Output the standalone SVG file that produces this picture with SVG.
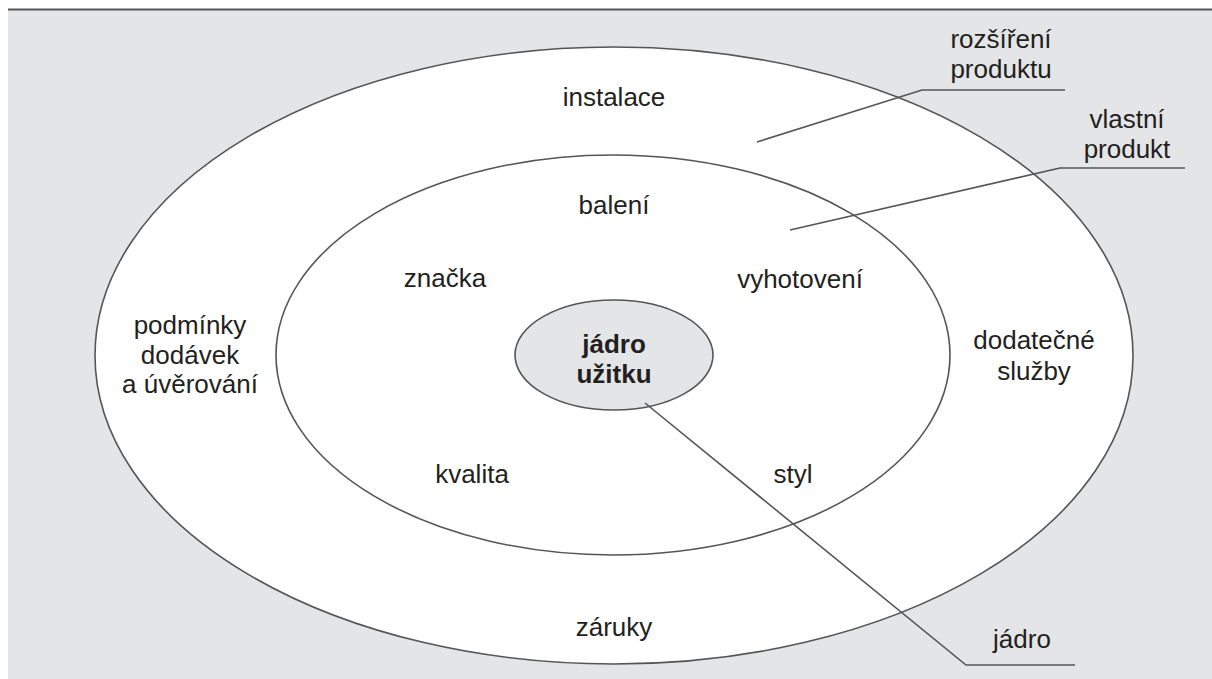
<svg xmlns="http://www.w3.org/2000/svg" width="1212" height="679" viewBox="0 0 1212 679">
<style>
.t{font-family:"Liberation Sans",Arial,sans-serif;font-size:26px;fill:#231f20;text-anchor:middle}
.b{font-weight:bold}
.e{stroke:#555;stroke-width:1.6}
.l{fill:none;stroke:#555;stroke-width:1.6}
</style>
<rect x="0" y="0" width="1212" height="679" fill="#ffffff"/>
<rect x="8" y="10" width="1204" height="669" fill="#e4e5e7"/>
<line x1="8" y1="9.5" x2="1212" y2="9.5" stroke="#555" stroke-width="2"/>
<g id="outer">
<ellipse class="e" cx="614" cy="355.5" rx="519" ry="308.5" fill="#ffffff"/>
<text class="t" x="614" y="106">instalace</text>
<text class="t" x="190" y="334">podmínky</text>
<text class="t" x="190" y="364">dodávek</text>
<text class="t" x="190" y="393">a úvěrování</text>
<text class="t" x="1034" y="349">dodatečné</text>
<text class="t" x="1034" y="380">služby</text>
<text class="t" x="614" y="636">záruky</text>
</g>
<g id="inner">
<ellipse class="e" cx="613" cy="355" rx="337" ry="200" fill="#ffffff"/>
<text class="t" x="614" y="214">balení</text>
<text class="t" x="445" y="287">značka</text>
<text class="t" x="800" y="288">vyhotovení</text>
<text class="t" x="472" y="483">kvalita</text>
<text class="t" x="793" y="483">styl</text>
</g>
<g id="core">
<ellipse class="e" cx="614" cy="355" rx="99" ry="55" fill="#e4e5e7"/>
<text class="t b" x="614" y="353">jádro</text>
<text class="t b" x="614" y="383">užitku</text>
</g>
<g id="connectors">
<polyline class="l" points="757,142 922,90 1065,90"/>
<polyline class="l" points="790,230 1060,168 1185,168"/>
<polyline class="l" points="645,403 966,665 1075,665"/>
</g>
<g id="labels">
<text class="t" x="1001" y="48">rozšíření</text>
<text class="t" x="1001" y="78">produktu</text>
<text class="t" x="1127" y="128">vlastní</text>
<text class="t" x="1127" y="158">produkt</text>
<text class="t" x="1022" y="648">jádro</text>
</g>
</svg>
